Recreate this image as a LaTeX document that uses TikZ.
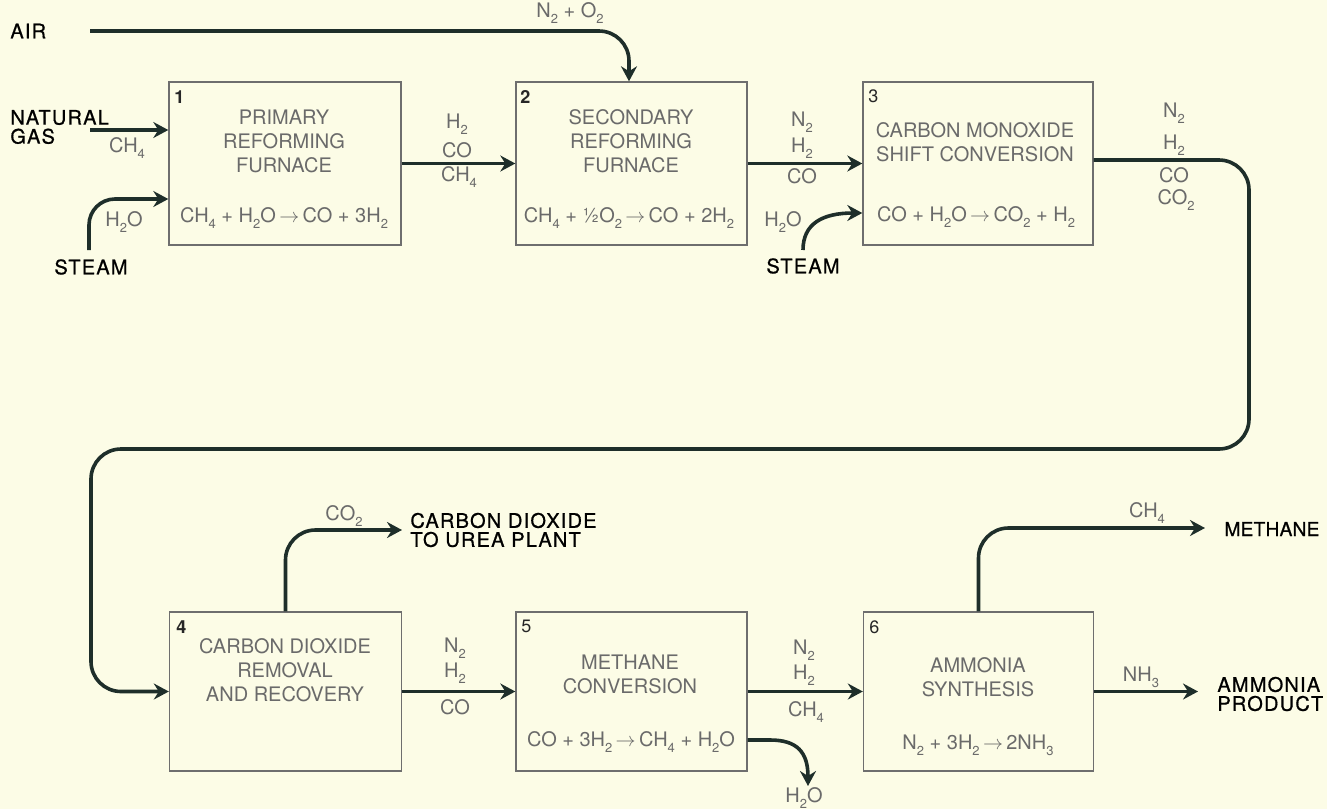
\documentclass[tikz,border=0pt]{standalone}
\usepackage{fontspec}
\setmainfont{TeX Gyre Heros}
\newfontfamily\lblfont[LetterSpace=6,FakeBold=0.8]{TeX Gyre Heros}
\newfontfamily\lblfontn[LetterSpace=1,FakeBold=0.8]{TeX Gyre Heros}
\usetikzlibrary{arrows.meta}
\definecolor{paper}{HTML}{FCFCE6}
\definecolor{ink}{HTML}{1E2E2A}
\definecolor{boxline}{HTML}{6E6E6E}
\definecolor{txt}{HTML}{6A6A6A}
\newcommand\sbs[1]{\raisebox{-0.55ex}{\fontsize{6.5}{6.5}\selectfont#1}}
\newcommand\rarr{\ensuremath{\rightarrow}}
\tikzset{
  proc/.style={draw=boxline, line width=0.7pt, inner sep=0pt, minimum height=81.5pt},
  procb/.style={proc, minimum height=79.5pt},
  flow/.style={draw=ink, line width=1.8pt, -{Stealth[length=7.5pt,width=8pt,inset=2.5pt]}},
  btxt/.style={text=txt, font=\fontsize{10}{12}\selectfont, align=center, inner sep=0pt},
  chem/.style={text=txt, font=\fontsize{10}{12}\selectfont, inner sep=0pt},
  num/.style={text=black!85, font=\fontsize{9}{10}\selectfont, anchor=north west, inner sep=0pt},
  lbl/.style={text=black, font=\lblfont\fontsize{10}{11.5}\selectfont, inner sep=0pt, align=left}
}
\begin{document}
\begin{tikzpicture}[x=0.5pt,y=-0.5pt]
\fill[paper] (0,0) rectangle (1327,809);
\useasboundingbox (0,0) rectangle (1327,809);

% process boxes
\node[proc, minimum width=116pt] (b1) at (285,163.5) {};
\node[proc, minimum width=115.5pt] (b2) at (631.5,163.5) {};
\node[proc, minimum width=115pt] (b3) at (978,163.5) {};
\node[procb, minimum width=116pt] (b4) at (285.5,691.5) {};
\node[procb, minimum width=115.5pt] (b5) at (631.5,691.5) {};
\node[procb, minimum width=115pt] (b6) at (978.5,691.5) {};

% box numbers
\node[num, font=\bfseries\fontsize{9}{10}\selectfont] (n1) at (174,90) {1};
\node[num, font=\bfseries\fontsize{9}{10}\selectfont] (n2) at (520,90) {2};
\node[num] (n3) at (868,89) {3};
\node[num, font=\bfseries\fontsize{9}{10}\selectfont] (n4) at (176,620) {4};
\node[num] (n5) at (521,620) {5};
\node[num] (n6) at (869,620) {6};

% box texts
\node[btxt] (t1) at (284,141) {PRIMARY\\REFORMING\\FURNACE};
\node[btxt] (e1) at (284,218) {CH\sbs{4} + H\sbs{2}O\,\rarr\,CO + 3H\sbs{2}};
\node[btxt] (t2) at (631,141) {SECONDARY\\REFORMING\\FURNACE};
\node[btxt] (e2) at (629,218) {CH\sbs{4} + ½O\sbs{2}\,\rarr\,CO + 2H\sbs{2}};
\node[btxt] (t3) at (975,142) {CARBON MONOXIDE\\SHIFT CONVERSION};
\node[btxt] (e3) at (976,217) {CO + H\sbs{2}O\,\rarr\,CO\sbs{2} + H\sbs{2}};
\node[btxt] (t4) at (285,670) {CARBON DIOXIDE\\REMOVAL\\AND RECOVERY};
\node[btxt] (t5) at (630,674) {METHANE\\CONVERSION};
\node[btxt] (e5) at (631,742) {CO + 3H\sbs{2}\,\rarr\,CH\sbs{4} + H\sbs{2}O};
\node[btxt] (t6) at (978,677) {AMMONIA\\SYNTHESIS};
\node[btxt] (e6) at (978,745) {N\sbs{2} + 3H\sbs{2}\,\rarr\,2NH\sbs{3}};

% black labels
\node[lbl, anchor=west] (air) at (10,31) {AIR};
\node[lbl, anchor=west] (ng) at (10,127) {NATURAL\\[-2pt]GAS};
\node[lbl] (steam1) at (91,267) {STEAM};
\node[lbl] (steam2) at (803,266) {STEAM};
\node[lbl, anchor=west] (urea) at (410,530) {CARBON DIOXIDE\\[-2pt]TO UREA PLANT};
\node[lbl, anchor=west, font=\lblfontn\fontsize{9.6}{11}\selectfont] (meth) at (1224,529) {METHANE};
\node[lbl, anchor=west] (amm) at (1217,694) {AMMONIA\\[-2pt]PRODUCT};

% connectors
\coordinate (airS) at (90,31);
\coordinate (airT) at (629,31);
\draw[flow, rounded corners=15pt] (airS) -- (airT) -- (airT |- b2.north);

\coordinate (ngS) at (90,130);
\draw[flow] (ngS) -- (ngS -| b1.west);

\coordinate (st1S) at (89,250);
\coordinate (st1T) at (89,199);
\draw[flow, rounded corners=13pt] (st1S) -- (st1T) -- (st1T -| b1.west);

\draw[flow] (b1.east) -- (b2.west);
\draw[flow] (b2.east) -- (b3.west);

\coordinate (st2S) at (803,250);
\coordinate (y213) at (0,213);
\draw[flow] (st2S) .. controls (803,224) and (822,213) .. (b3.west |- y213);

\coordinate (l1) at (1249,160);
\coordinate (l2) at (1249,449);
\coordinate (l3) at (91,449);
\coordinate (l4) at (91,691.5);
\draw[flow, rounded corners=15pt] (b3.east |- l1) -- (l1) -- (l2) -- (l3) -- (l4) -- (b4.west);

\coordinate (co2T) at (402,530);
\draw[flow, rounded corners=15pt] (b4.north) |- (co2T);

\draw[flow] (b4.east) -- (b5.west);
\draw[flow] (b5.east) -- (b6.west);

\coordinate (h2oA) at (770,740);
\coordinate (h2oT) at (808,786);
\draw[flow] (b5.east |- h2oA) -- (h2oA) .. controls (797,740) and (808,752) .. (h2oT);

\coordinate (ch4T) at (1205,528);
\draw[flow, rounded corners=15pt] (b6.north) |- (ch4T);

\coordinate (nh3T) at (1198,691.5);
\draw[flow] (b6.east) -- (nh3T);

% stream labels
\node[chem] (c0) at (570,13) {N\sbs{2} + O\sbs{2}};
\node[chem] (c1) at (127,148) {CH\sbs{4}};
\node[chem] (c2) at (124,222) {H\sbs{2}O};
\node[chem] (c3) at (457,124) {H\sbs{2}};
\node[chem] (c4) at (457,150) {CO};
\node[chem] (c5) at (459,177) {CH\sbs{4}};
\node[chem] (c6) at (802,122) {N\sbs{2}};
\node[chem] (c7) at (802,148) {H\sbs{2}};
\node[chem] (c8) at (802,176) {CO};
\node[chem] (c9) at (783,222) {H\sbs{2}O};
\node[chem] (c10) at (1174,113) {N\sbs{2}};
\node[chem] (c11) at (1174,145) {H\sbs{2}};
\node[chem] (c12) at (1174,175) {CO};
\node[chem] (c13) at (1176,200) {CO\sbs{2}};
\node[chem] (c14) at (344,516) {CO\sbs{2}};
\node[chem] (c15) at (455,648) {N\sbs{2}};
\node[chem] (c16) at (455,673) {H\sbs{2}};
\node[chem] (c17) at (455,707) {CO};
\node[chem] (c18) at (804,650) {N\sbs{2}};
\node[chem] (c19) at (804,675) {H\sbs{2}};
\node[chem] (c20) at (806,712) {CH\sbs{4}};
\node[chem] (c21) at (804,798) {H\sbs{2}O};
\node[chem] (c22) at (1147,513) {CH\sbs{4}};
\node[chem] (c23) at (1141,677) {NH\sbs{3}};
\end{tikzpicture}
\end{document}
